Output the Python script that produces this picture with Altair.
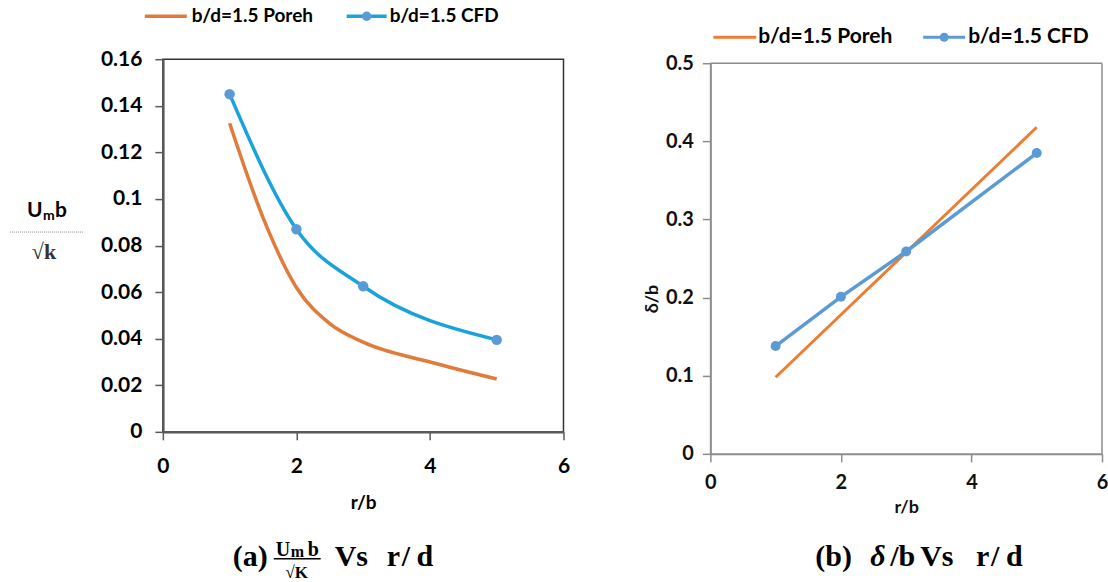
import altair as alt
import pandas as pd

# ---------------- data ----------------
r_cfd = [1, 2, 3, 5]
a_cfd = [0.145, 0.087, 0.0625, 0.0395]
r_poreh_a = [1, 1.5, 2, 2.5, 3, 4, 5]
a_poreh = [0.1325, 0.092, 0.062, 0.0465, 0.0385, 0.030, 0.0227]

b_cfd = [0.138, 0.201, 0.259, 0.385]
r_poreh_b = [1, 2, 3, 4, 5]
b_poreh = [0.098, 0.178, 0.258, 0.338, 0.418]

x_ticks = [0, 2, 4, 6]
a_ticks = [0, 0.02, 0.04, 0.06, 0.08, 0.1, 0.12, 0.14, 0.16]
b_ticks = [0, 0.1, 0.2, 0.3, 0.4, 0.5]

df_a_cfd = pd.DataFrame({"r": r_cfd, "v": a_cfd})
df_a_por = pd.DataFrame({"r": r_poreh_a, "v": a_poreh})
df_b_cfd = pd.DataFrame({"r": r_cfd, "v": b_cfd})
df_b_por = pd.DataFrame({"r": r_poreh_b, "v": b_poreh})
one = pd.DataFrame({"k": [0]})

SANS = "Lato"
SERIF = "Liberation Serif"


def txt(s, x, y, size, font=SANS, weight="bold", style="normal", align="left",
        baseline="middle", color="black", angle=0):
    return alt.Chart(one).mark_text(
        text=s, font=font, fontSize=size, fontWeight=weight, fontStyle=style,
        align=align, baseline=baseline, color=color, angle=angle
    ).encode(x=alt.value(x), y=alt.value(y))


def hline(x1, x2, y, color, width, dash=None):
    kw = dict(color=color, strokeWidth=width)
    if dash:
        kw["strokeDash"] = dash
    return alt.Chart(one).mark_rule(**kw).encode(
        x=alt.value(x1), x2=alt.value(x2), y=alt.value(y))


def vline(x, y1, y2, color, width):
    return alt.Chart(one).mark_rule(color=color, strokeWidth=width).encode(
        x=alt.value(x), y=alt.value(y1), y2=alt.value(y2))


def dot(x, y, color, size):
    return alt.Chart(one).mark_point(filled=True, color=color, size=size, opacity=1).encode(
        x=alt.value(x), y=alt.value(y))


# ---------------- left panel ----------------
OR_A = "#E07B39"
BL_A = "#1AA3DB"
MK = "#5B9BD5"

xa = alt.X("r:Q", scale=alt.Scale(domain=[0, 6], nice=False, zero=False),
           axis=alt.Axis(values=x_ticks, title="r/b", grid=False, labelFlush=False,
                         domainColor="#595959", domainWidth=2.5, tickColor="#595959",
                         tickWidth=1.5, tickSize=8, labelFont=SANS, labelFontWeight="bold",
                         labelFontSize=21, labelColor="black", labelPadding=16,
                         titleFont=SANS, titleFontWeight="bold", titleFontSize=19,
                         titleColor="black", titlePadding=17))
ya = alt.Y("v:Q", scale=alt.Scale(domain=[0, 0.16], nice=False, zero=False),
           axis=alt.Axis(values=a_ticks, format="~g", title=None, grid=False,
                         domainColor="#595959", domainWidth=2.5, tickColor="#595959",
                         tickWidth=1.5, tickSize=8, labelFont=SANS, labelFontWeight="bold",
                         labelFontSize=21, labelColor="black", labelPadding=13,
                         labelFlush=False))

a_por_line = alt.Chart(df_a_por).mark_line(color=OR_A, strokeWidth=3.5,
                                           interpolate="monotone").encode(x=xa, y=ya)
a_cfd_line = alt.Chart(df_a_cfd).mark_line(color=BL_A, strokeWidth=3.5,
                                           interpolate="monotone").encode(x=xa, y=ya)
a_cfd_pts = alt.Chart(df_a_cfd).mark_point(filled=True, color=MK, size=110,
                                           opacity=1).encode(x=xa, y=ya)

left = alt.layer(
    a_por_line, a_cfd_line, a_cfd_pts,
    # legend
    hline(-18, 24, -43, OR_A, 3.5), txt("b/d=1.5 Poreh", 29, -43, 19),
    hline(184, 224, -43, BL_A, 3.5), dot(204, -43, MK, 90),
    txt("b/d=1.5 CFD", 227, -43, 19),
    # y title (fraction)
    txt("U", -136, 158, 21, baseline="alphabetic"),
    txt("m", -120, 161, 14, baseline="alphabetic"),
    txt("b", -108, 158, 21, baseline="alphabetic"),
    hline(-153, -79, 173, "#8c8c8c", 1, dash=[1, 1]),
    txt("\u221Ak", -119, 200, 22, font=SERIF, align="center", baseline="alphabetic",
        color="#333333"),
    # caption
    txt("(a)", 70, 507, 30, font=SERIF, baseline="alphabetic"),
    txt("U", 113, 497, 20, font=SERIF, baseline="alphabetic"),
    txt("m", 128, 498, 16, font=SERIF, baseline="alphabetic"),
    txt("b", 145, 497, 20, font=SERIF, baseline="alphabetic"),
    hline(111, 158, 500, "black", 1.5),
    txt("\u221AK", 134, 519, 17, font=SERIF, align="center", baseline="alphabetic"),
    txt("Vs", 172, 507, 30, font=SERIF, baseline="alphabetic"),
    txt("r", 224, 507, 30, font=SERIF, baseline="alphabetic"),
    txt("/", 239, 507, 30, font=SERIF, baseline="alphabetic"),
    txt("d", 254, 507, 30, font=SERIF, baseline="alphabetic"),
).properties(width=401, height=373,
             view=alt.ViewBackground(stroke="#333333", strokeWidth=1.5))

# ---------------- right panel ----------------
OR_B = "#ED7D31"
BL_B = "#5B9BD5"
GR_B = "#8c8c8c"

xb = alt.X("r:Q", scale=alt.Scale(domain=[0, 6], nice=False, zero=False),
           axis=alt.Axis(values=x_ticks, title="r/b", grid=False, labelFlush=False,
                         domainColor=GR_B, domainWidth=2, tickColor=GR_B,
                         tickWidth=1.5, tickSize=8, labelFont=SANS, labelFontWeight="bold",
                         labelFontSize=20, labelColor="#111111", labelPadding=11,
                         titleFont=SANS, titleFontWeight="bold", titleFontSize=18,
                         titleColor="#111111", titlePadding=6))
yb = alt.Y("v:Q", scale=alt.Scale(domain=[0, 0.5], nice=False, zero=False, range=[395, 4]),
           axis=alt.Axis(values=b_ticks, format="~g", title=None, grid=False,
                         domainColor=GR_B, domainWidth=2, tickColor=GR_B,
                         tickWidth=1.5, tickSize=8, labelFont=SANS, labelFontWeight="bold",
                         labelFontSize=20, labelColor="#111111", labelPadding=9,
                         labelFlush=False))

b_por_line = alt.Chart(df_b_por).mark_line(color=OR_B, strokeWidth=3).encode(x=xb, y=yb)
b_cfd_line = alt.Chart(df_b_cfd).mark_line(color=BL_B, strokeWidth=3.5).encode(x=xb, y=yb)
b_cfd_pts = alt.Chart(df_b_cfd).mark_point(filled=True, color=BL_B, size=100,
                                           opacity=1).encode(x=xb, y=yb)

right = alt.layer(
    # frame (top and right)
    hline(0, 392, 4, GR_B, 1.5), vline(392, 4, 395, GR_B, 1.5),
    b_por_line, b_cfd_line, b_cfd_pts,
    # y title
    txt("\u03B4/b", -57, 240, 18, align="center", angle=270, color="#111111"),
    # legend
    hline(3, 46, -22, OR_B, 3), txt("b/d=1.5 Poreh", 48, -22, 21),
    hline(213, 255, -22, BL_B, 3), dot(234, -22, BL_B, 80),
    txt("b/d=1.5 CFD", 258, -22, 21),
    # caption
    txt("(b)", 105, 507, 30, font=SERIF, baseline="alphabetic"),
    txt("\u03B4", 160, 507, 30, font=SERIF, style="italic", baseline="alphabetic"),
    txt("/b", 180, 507, 30, font=SERIF, baseline="alphabetic"),
    txt("Vs", 210, 507, 30, font=SERIF, baseline="alphabetic"),
    txt("r", 266, 507, 30, font=SERIF, baseline="alphabetic"),
    txt("/", 281, 507, 30, font=SERIF, baseline="alphabetic"),
    txt("d", 296, 507, 30, font=SERIF, baseline="alphabetic"),
).properties(width=392, height=395,
             view=alt.ViewBackground(strokeOpacity=0))

chart = alt.hconcat(left, right, spacing=74).properties(
    padding={"left": 8, "top": 6, "right": 0, "bottom": 0},
    background="white",
)

chart.save("out.html", embed_options={"renderer": "svg", "actions": False})
